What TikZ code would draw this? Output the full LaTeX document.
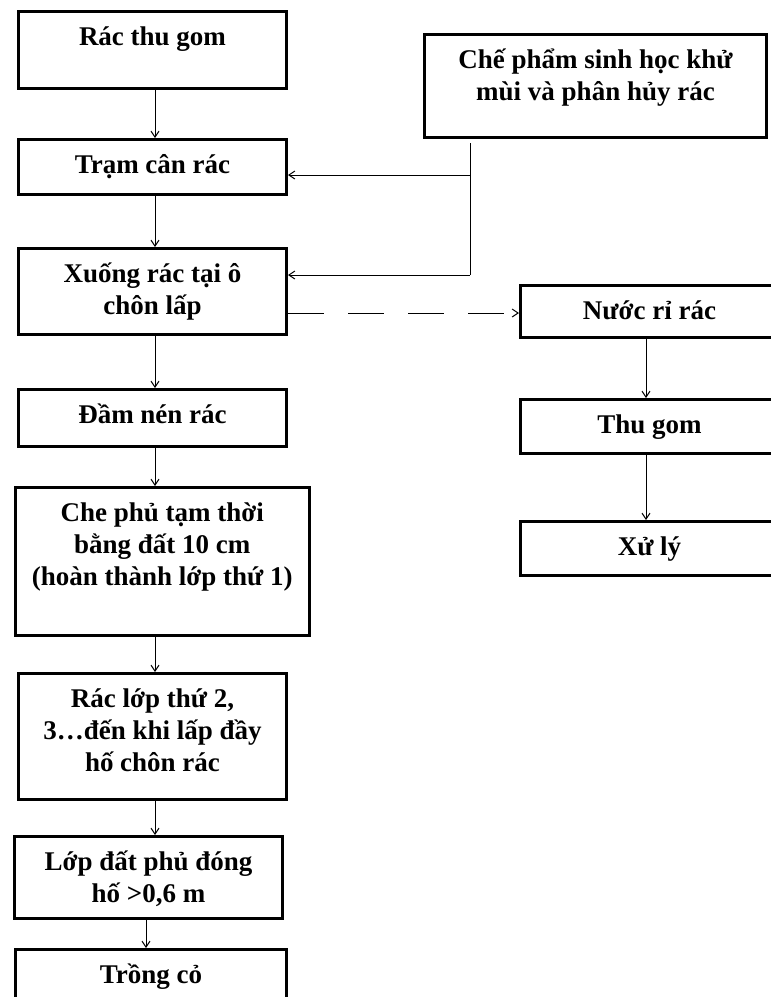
\documentclass[tikz,border=0pt]{standalone}
\usepackage{fontspec}
\setmainfont{Liberation Serif}
\usetikzlibrary{arrows.meta, calc}
\tikzset{flowbox/.style={draw=black, line width=3pt, inner sep=0pt, anchor=north west, font=\fontsize{27}{32}\selectfont\bfseries},
    flowarrow/.style={line width=1pt, -{Straight Barb[length=6pt,width=8pt]}}}
\newcommand{\boxtext}[3]{\parbox[b][#2][t]{#1}{\centering\rule{0pt}{34pt}#3}}

\begin{document}
\begin{tikzpicture}[x=1pt, y=-1pt]
            \useasboundingbox (0,0) rectangle (771,997);
            % left column
            \node[flowbox] (gom) at (17,9.5) {\boxtext{268pt}{77.5pt}{Rác thu gom}};
            \node[flowbox] (tram) at (17,138) {\boxtext{268pt}{55pt}{Trạm cân rác}};
            \node[flowbox] (xuong) at (17,247) {\boxtext{268pt}{86pt}{Xuống rác tại ô\\chôn lấp}};
            \node[flowbox] (dam) at (17,388) {\boxtext{268pt}{57pt}{Đầm nén rác}};
            \node[flowbox] (che) at (13.5,486) {\boxtext{294.5pt}{148pt}{Che phủ tạm thời\\bằng đất 10 cm\\(hoàn thành lớp thứ 1)}};
            \node[flowbox] (lop) at (17,672) {\boxtext{268pt}{126pt}{Rác lớp thứ 2,\\3…đến khi lấp đầy\\hố chôn rác}};
            \node[flowbox] (phu) at (13,835) {\boxtext{268pt}{82pt}{Lớp đất phủ đóng\\hố >0,6 m}};
            \node[flowbox] (co) at (14,948) {\boxtext{271pt}{60pt}{Trồng cỏ}};
            % right column
            \node[flowbox] (pham) at (423,33) {\boxtext{342pt}{103pt}{Chế phẩm sinh học khử\\mùi và phân hủy rác}};
            \node[flowbox] (nuoc) at (519,284) {\boxtext{258pt}{52pt}{Nước rỉ rác}};
            \node[flowbox] (thu) at (519,398) {\boxtext{258pt}{54pt}{Thu gom}};
            \node[flowbox] (xuly) at (519,520) {\boxtext{258pt}{54pt}{Xử lý}};
            \coordinate (col) at (155,0);
            \coordinate (colb) at (146,0);
            \coordinate (rcol) at (646,0);
            \coordinate (split) at (470,175);
            \coordinate (turn) at (470,275);
            \coordinate (leak) at (0,313);
            \draw[flowarrow](gom.south -| col)--(tram.north -| col);
            \draw[flowarrow](tram.south -| col)--(xuong.north -| col);
            \draw[flowarrow](xuong.south -| col)--(dam.north -| col);
            \draw[flowarrow](dam.south -| col)--(che.north -| col);
            \draw[flowarrow](che.south -| col)--(lop.north -| col);
            \draw[flowarrow](lop.south -| col)--(phu.north -| col);
            \draw[flowarrow](phu.south -| colb)--(co.north -| colb);
            \draw[line width=1pt]([yshift=-4pt]pham.south -| split)--(turn);
            \draw[flowarrow](split)--(tram.east |- split);
            \draw[flowarrow](turn)--(xuong.east |- turn);
            \draw[flowarrow, dash pattern=on 36pt off 24pt](xuong.east |- leak)--(nuoc.west |- leak);
            \draw[flowarrow](nuoc.south -| rcol)--(thu.north -| rcol);
            \draw[flowarrow](thu.south -| rcol)--(xuly.north -| rcol);
        \end{tikzpicture}
\end{document}
